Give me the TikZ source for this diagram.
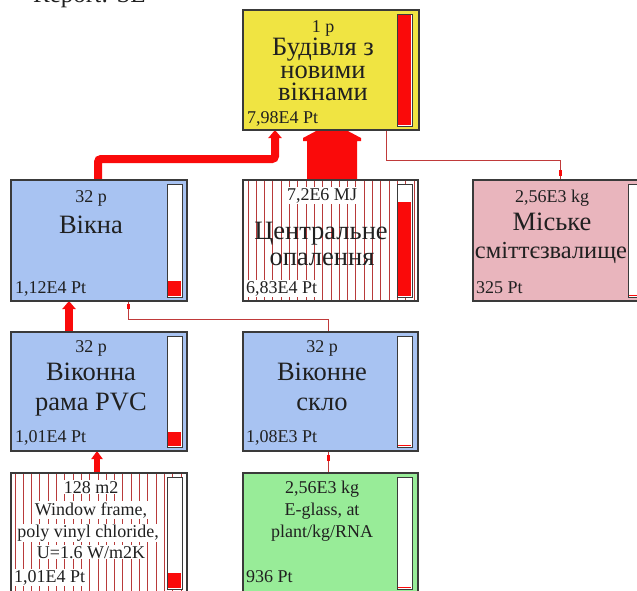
\documentclass[tikz,border=0pt]{standalone}
\usepackage{fontspec}
\setmainfont{Liberation Serif}
\usetikzlibrary{arrows.meta}
\definecolor{cyel}{HTML}{F0E442}
\definecolor{cblue}{HTML}{A8C3F2}
\definecolor{cpink}{HTML}{E9B5BD}
\definecolor{cgreen}{HTML}{98EC98}
\definecolor{cborder}{HTML}{3A3A3A}
\definecolor{cred}{HTML}{FA0A0A}
\definecolor{cthin}{HTML}{C03A3A}
\definecolor{chatch}{HTML}{B83A3A}
\definecolor{ctext}{HTML}{202020}
\pgfdeclarelayer{bg}
\pgfsetlayers{bg,main}
\tikzset{
  boxs/.style={draw=cborder, line width=1.3pt, inner sep=0pt, outer sep=0pt,
    anchor=north west, minimum width=176pt},
  small/.style={font=\fontsize{18}{20}\selectfont, text=ctext, inner sep=1pt, anchor=base},
  smallw/.style={small, fill=white},
  valtxt/.style={small, anchor=base west},
  titletxt/.style={font=\fontsize{26.5}{27}\selectfont, text=ctext, inner sep=0pt, anchor=base,
    text height=16pt, text depth=4pt},
  thinline/.style={draw=cthin, line width=1pt},
  thickarrow/.style={draw=cred, line width=8pt, rounded corners=3pt,
    -{Triangle[width=13pt,length=8pt]}},
  hatchline/.style={draw=chatch, line width=0.9pt},
  barbox/.style={fill=white, draw=cborder, line width=1pt},
}
\newcommand\mkbar[4]{%
  \draw[barbox] (#1,#2) rectangle (#1+15,#3);
  \fill[cred] (#1+1,#4) rectangle (#1+14,#3-1);}
\begin{document}
\begin{tikzpicture}[x=1pt, y=-1pt]
\useasboundingbox (0,0) rectangle (637,590);
\clip (0,0) rectangle (637,590);

\node[font=\fontsize{25}{27}\selectfont, text=ctext, inner sep=0pt, anchor=base west] (rep) at (33,2.5) {Report: SE};

% boxes
\node[boxs, fill=cyel, minimum height=120pt] (top) at (243,10) {};
\node[boxs, fill=cblue, minimum height=121pt] (vikna) at (11,180) {};
\node[boxs, fill=white, minimum width=175pt, minimum height=121pt] (central) at (243,180) {};
\node[boxs, fill=cpink, minimum height=121pt] (misto) at (473,180) {};
\node[boxs, fill=cblue, minimum height=119pt] (rama) at (11,332) {};
\node[boxs, fill=cblue, minimum width=175pt, minimum height=119pt] (sklo) at (243,332) {};
\node[boxs, fill=white, minimum height=120pt] (frame) at (11,473) {};
\node[boxs, fill=cgreen, minimum width=175pt, minimum height=120pt] (eglass) at (243,473) {};

% hatching
\foreach \i in {0,...,20} \draw[hatchline] (248+\i*8.3,181) -- (248+\i*8.3,300);
\foreach \i in {0,...,20} \draw[hatchline] (15+\i*8.3,474) -- (15+\i*8.3,592);

% bars
\mkbar{397}{14}{126}{15}
\mkbar{167}{184}{297}{281}
\mkbar{397}{184}{297}{202}
\mkbar{628}{184}{297}{295}
\mkbar{167}{336}{447}{432}
\mkbar{397}{336}{447}{445}
\mkbar{167}{477}{589}{573}
\mkbar{397}{477}{589}{587}

% connectors
\begin{pgfonlayer}{bg}
\draw[thickarrow] (98,0 |- vikna.north) -- (98,159) -- (275,159) -- (275,0 |- top.south);
\fill[cred] (307,0 |- central.north) -- (307,141) -- (303,141) -- (303,138)
  -- (318,0 |- top.south) -- (346,0 |- top.south) -- (361,138) -- (361,141)
  -- (357,141) -- (357,0 |- central.north) -- cycle;
\draw[thinline] (386,0 |- top.south) -- (386,160) -- (560,160) -- (560,0 |- misto.north);
\fill[cred] (558.5,170) rectangle (561.5,176);
\draw[thickarrow] (69,0 |- rama.north) -- (69,0 |- vikna.south);
\draw[thinline] (328,0 |- sklo.north) -- (328,319) -- (128,319) -- (128,0 |- vikna.south);
\fill[cred] (126.5,304) rectangle (129.5,309);
\draw[draw=cred, line width=6pt, -{Triangle[width=11pt,length=8pt]}] (97,0 |- frame.north) -- (97,0 |- rama.south);
\draw[thinline] (328,0 |- eglass.north) -- (328,0 |- sklo.south);
\fill[cred] (326.5,455) rectangle (329.5,461);
\end{pgfonlayer}

% texts: top
\node[small] (t1) at (323,32) {1 p};
\node[titletxt] (t2) at (323,55) {Будівля з};
\node[titletxt] (t3) at (323,78) {новими};
\node[titletxt] (t4) at (323,100) {вікнами};
\node[valtxt] (t5) at (246,123) {7,98E4 Pt};
% vikna
\node[small] (v1) at (91,202) {32 p};
\node[titletxt] (v2) at (91,233) {Вікна};
\node[valtxt] (v3) at (14,293) {1,12E4 Pt};
% central
\node[smallw] (c1) at (322,200) {7,2E6 MJ};
\node[titletxt] (c2) at (321,239) {Центральне};
\node[titletxt] (c3) at (322,265) {опалення};
\node[valtxt, fill=white] (c4) at (245,293) {6,83E4 Pt};
% misto
\node[small] (m1) at (552,202) {2,56E3 kg};
\node[titletxt] (m2) at (552,230) {Міське};
\node[titletxt, font=\fontsize{24.5}{27}\selectfont] (m3) at (551,258) {сміттєзвалище};
\node[valtxt] (m4) at (475,293) {325 Pt};
% rama
\node[small] (r1) at (91,352) {32 p};
\node[titletxt] (r2) at (91,380) {Віконна};
\node[titletxt] (r3) at (91,410) {рама PVC};
\node[valtxt] (r4) at (14,442) {1,01E4 Pt};
% sklo
\node[small] (s1) at (322,352) {32 p};
\node[titletxt] (s2) at (322,380) {Віконне};
\node[titletxt] (s3) at (322,410) {скло};
\node[valtxt] (s4) at (245,442) {1,08E3 Pt};
% frame
\node[smallw] (f1) at (91,493) {128 m2};
\node[smallw] (f2) at (91,515) {Window frame,};
\node[smallw] (f3) at (88,537) {poly vinyl chloride,};
\node[smallw] (f4) at (91,558) {U=1.6 W/m2K};
\node[valtxt, fill=white] (f5) at (13,582) {1,01E4 Pt};
% eglass
\node[small] (g1) at (322,493) {2,56E3 kg};
\node[small] (g2) at (322,515) {E-glass, at};
\node[small] (g3) at (322,537) {plant/kg/RNA};
\node[valtxt] (g4) at (245,582) {936 Pt};
\end{tikzpicture}
\end{document}
